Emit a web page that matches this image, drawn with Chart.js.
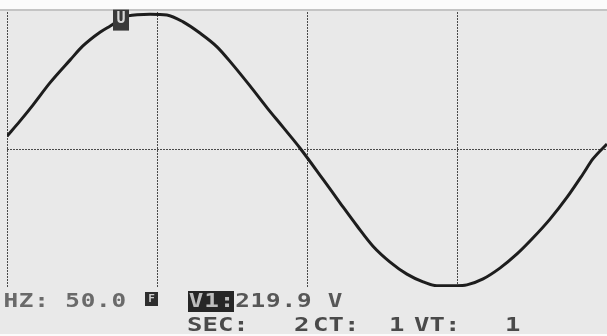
<!DOCTYPE html>
<html>
<head>
<meta charset="utf-8">
<script src="https://cdn.jsdelivr.net/npm/chart.js@4.4.1/dist/chart.umd.min.js"></script>
<style>
  html, body { margin: 0; padding: 0; background: #ffffff; }
  #wrap { width: 607px; height: 336px; }
</style>
</head>
<body>
<div id="wrap"><canvas id="c" width="607" height="336"></canvas></div>
<script>
// Time axis (ms); 5 ms per division, one 50 Hz period
const timeMs = [0, 0.43, 0.87, 1.43, 2.1, 2.53, 3.1, 3.43, 4.03, 4.77, 5.33, 5.87, 6.43, 7.0, 7.53, 8.1, 8.67, 9.2, 9.77, 10.53, 11.1, 11.67, 12.2, 12.77, 13.33, 13.87, 14.33, 15.0, 15.33, 15.87, 16.43, 17.0, 17.53, 18.1, 18.67, 19.2, 19.53, 20];
// Instantaneous voltage (V)
const voltage = [31, 66, 104, 155, 208, 241, 273, 287, 311, 315, 313, 297, 271, 239, 197, 148, 97, 52, 3, -69, -124, -178, -225, -262, -290, -308, -317, -317, -315, -301, -276, -243, -206, -162, -111, -57, -22, 13];
// Grid divisions
const timeTicks = [0, 5, 10, 15];
const voltTicks = [0];
// Cursor marker
const markerLabel = ['U'];
const markerPos = [3.8, 300];
// Readout texts
const readLine1 = ['HZ:', '50.0', 'F', 'V1:', '219.9', 'V'];
const readLine2 = ['SEC:', '2', 'CT:', '1', 'VT:', '1'];

const points = timeMs.map((t, i) => ({ x: t, y: voltage[i] }));

const PITCH = 15.45;

function drawCells(ctx, str, x0, baseline, color, size) {
  ctx.save();
  ctx.font = 'bold ' + (size || 19) + 'px "DejaVu Sans Mono"';
  ctx.fillStyle = color;
  ctx.textAlign = 'center';
  ctx.textBaseline = 'alphabetic';
  for (let i = 0; i < str.length; i++) {
    const ch = str[i];
    if (ch === ' ') continue;
    ctx.save();
    ctx.translate(x0 + i * PITCH + PITCH / 2, baseline);
    ctx.scale(1.28, 1);
    ctx.fillText(ch, 0, 0);
    ctx.restore();
  }
  ctx.restore();
}

const screenPlugin = {
  id: 'screen',
  beforeDraw(chart) {
    const ctx = chart.ctx;
    ctx.save();
    ctx.fillStyle = '#e9e9e9';
    ctx.fillRect(0, 0, chart.width, chart.height);
    ctx.fillStyle = '#fbfbfb';
    ctx.fillRect(0, 0, chart.width, 9);
    ctx.fillRect(0, 334, chart.width, 2);
    ctx.fillStyle = '#c4c4c4';
    ctx.fillRect(0, 9, chart.width, 2);
    ctx.restore();
  },
  afterDatasetsDraw(chart) {
    const ctx = chart.ctx;
    const xs = chart.scales.x, ys = chart.scales.y;
    const px = xs.getPixelForValue(markerPos[0]);
    const py = ys.getPixelForValue(markerPos[1]);
    ctx.save();
    ctx.fillStyle = '#3a3a3a';
    ctx.fillRect(px - 8, py - 11, 16, 21);
    ctx.fillStyle = '#d8d8d8';
    ctx.font = 'bold 15px "DejaVu Sans Mono"';
    ctx.textAlign = 'center';
    ctx.textBaseline = 'middle';
    ctx.fillText(markerLabel[0], px, py - 1);
    ctx.restore();
  },
  afterDraw(chart) {
    const ctx = chart.ctx;
    // line 1
    drawCells(ctx, readLine1[0], 3, 307, '#6a6a6a');
    drawCells(ctx, readLine1[1], 3 + 4 * PITCH, 307, '#6a6a6a');
    // F box
    ctx.save();
    ctx.fillStyle = '#2e2e2e';
    ctx.fillRect(145, 292, 13, 14);
    ctx.fillStyle = '#cfcfcf';
    ctx.font = 'bold 11px "DejaVu Sans Mono"';
    ctx.textAlign = 'center';
    ctx.textBaseline = 'middle';
    ctx.fillText(readLine1[2], 151.5, 299.5);
    // V1 box
    ctx.fillStyle = '#262626';
    ctx.fillRect(188, 291, 46, 21);
    ctx.restore();
    drawCells(ctx, readLine1[3], 3 + 12 * PITCH, 307, '#bdbdbd');
    drawCells(ctx, readLine1[4], 3 + 15 * PITCH, 307, '#575757');
    drawCells(ctx, readLine1[5], 3 + 21 * PITCH, 307, '#575757');
    // line 2
    const b2 = 331;
    drawCells(ctx, readLine2[0], 187, b2, '#4a4a4a', 20);
    drawCells(ctx, readLine2[1], 294, b2, '#4a4a4a', 20);
    drawCells(ctx, readLine2[2], 313, b2, '#4a4a4a', 20);
    drawCells(ctx, readLine2[3], 389, b2, '#4a4a4a', 20);
    drawCells(ctx, readLine2[4], 414, b2, '#4a4a4a', 20);
    drawCells(ctx, readLine2[5], 505, b2, '#4a4a4a', 20);
  }
};

new Chart(document.getElementById('c'), {
  type: 'line',
  data: {
    datasets: [{
      data: points,
      borderColor: '#1d1d1d',
      borderWidth: 3,
      pointRadius: 0,
      fill: false,
      cubicInterpolationMode: 'monotone'
    }]
  },
  options: {
    responsive: false,
    animation: false,
    events: [],
    layout: { padding: { left: 7, top: 12, right: 0, bottom: 49 } },
    plugins: { legend: { display: false }, tooltip: { enabled: false } },
    scales: {
      x: {
        type: 'linear', min: 0, max: 20,
        afterBuildTicks: (s) => { s.ticks = timeTicks.map(v => ({ value: v })); },
        ticks: { display: false },
        grid: { color: '#4a4a4a', lineWidth: 1, drawTicks: false },
        border: { display: false, dash: [2, 1] }
      },
      y: {
        type: 'linear', min: -320, max: 320,
        afterBuildTicks: (s) => { s.ticks = voltTicks.map(v => ({ value: v })); },
        ticks: { display: false },
        grid: { color: '#4a4a4a', lineWidth: 1, drawTicks: false },
        border: { display: false, dash: [2, 1] }
      }
    }
  },
  plugins: [screenPlugin]
});
</script>
</body>
</html>
